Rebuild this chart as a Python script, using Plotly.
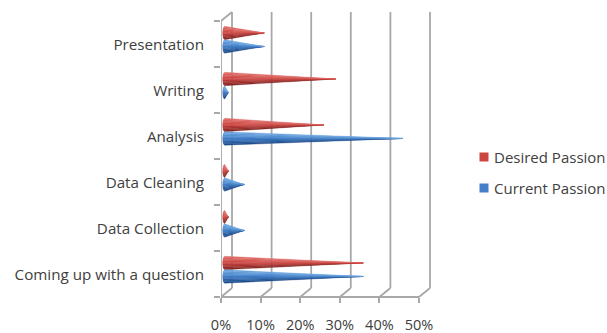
import plotly.graph_objects as go

categories = ["Coming up with a question", "Data Collection", "Data Cleaning", "Analysis", "Writing", "Presentation"]
desired_passion = [35, 1, 1, 25, 28, 10]
current_passion = [35, 5, 5, 45, 1, 10]
x_ticks = [0, 10, 20, 30, 40, 50]
x_labels = ["0%", "10%", "20%", "30%", "40%", "50%"]
series_names = ["Desired Passion", "Current Passion"]

W, H = 607, 333
L, R, T, B = 221, 431, 12, 297
UX = 3.96  # pixels per percent
UY = 46.0  # pixels per category
GREY = "#a8a8a8"
TXT = "#404040"
FONT = "Open Sans"
DEPTH_X = 11 / UX
DEPTH_Y = 9 / (B - T)
BASE_SHIFT = 0.9
HALF = 0.145
BULGE = 0.45


def mix(a, b, t):
    return "#" + "".join(f"{round(a[i] + (b[i] - a[i]) * t):02x}" for i in range(3))


def ramp(top, mid, dark, v):
    # v runs from -1 (lower edge) to 1 (upper edge)
    return mix(mid, top, v) if v >= 0 else mix(mid, dark, -v)


RED = ((226, 112, 108), (200, 64, 60), (125, 38, 36))
BLUE = ((112, 168, 226), (62, 124, 198), (28, 72, 132))
STEPS = 9


def add_cones(fig, values, offset, colours, name):
    for i, val in enumerate(values):
        yc = i + offset
        tip = val + BASE_SHIFT
        for s in range(STEPS):
            a = -1 + 2 * s / STEPS
            b = -1 + 2 * (s + 1) / STEPS
            m = (a + b) / 2
            bul_a = BASE_SHIFT - BULGE * (1 - a * a) ** 0.5
            bul_b = BASE_SHIFT - BULGE * (1 - b * b) ** 0.5
            fig.add_trace(go.Scatter(
                x=[bul_a, tip, bul_b, bul_a],
                y=[yc + a * HALF, yc, yc + b * HALF, yc + a * HALF],
                mode="lines", fill="toself", line=dict(width=0.4, color=ramp(*colours, m)),
                fillcolor=ramp(*colours, m), hoverinfo="skip", showlegend=False, name=name,
            ))


fig = go.Figure()
add_cones(fig, desired_passion, 0.24, RED, series_names[0])
add_cones(fig, current_passion, -0.054, BLUE, series_names[1])

shapes = []
annotations = []
X_END = (R - L) / (W - L)


def xp(px):
    return (px - L) / (W - L)


def yp(px):
    return (B - px) / (B - T)


def line(x0, y0, x1, y1):
    shapes.append(dict(type="line", xref="x", yref="paper", x0=x0, y0=y0, x1=x1, y1=y1,
                       layer="below", line=dict(color=GREY, width=1.8)))


front_top = yp(21)
for v in x_ticks:
    line(v + DEPTH_X, DEPTH_Y, v + DEPTH_X, 1)
    line(v, 0, v + DEPTH_X, DEPTH_Y)
line(0, 0, 50, 0)
line(0, 0, 0, front_top)
line(0, front_top, DEPTH_X, 1)

for name, colours, row in zip(series_names, (RED, BLUE), (157, 188)):
    shapes.append(dict(type="rect", xref="paper", yref="paper", x0=xp(479.5), x1=xp(488.5),
                       y0=yp(row + 4.5), y1=yp(row - 4.5), line=dict(width=0),
                       fillcolor=mix(colours[1], colours[0], 0.1)))
    annotations.append(dict(xref="paper", yref="paper", x=xp(492), y=yp(row), xanchor="left",
                            yanchor="middle", text=name, showarrow=False,
                            font=dict(size=15, color=TXT)))

fig.update_layout(
    width=W, height=H, autosize=False,
    margin=dict(l=L, r=0, t=T, b=H - B, pad=0),
    paper_bgcolor="white", plot_bgcolor="white",
    font=dict(family=FONT, size=15.2, color=TXT),
    shapes=shapes, annotations=annotations, showlegend=False,
    xaxis=dict(domain=[0, X_END], automargin=False, range=[0, (R - L) / UX], tickvals=x_ticks,
               ticktext=x_labels, showgrid=False, zeroline=False, showline=False, ticks="outside",
               ticklen=5, tickwidth=1.8, tickcolor=GREY, ticklabelstandoff=10,
               tickfont=dict(size=14.5, color=TXT)),
    yaxis=dict(automargin=False, range=[-0.5, -0.5 + (B - T) / UY],
               tickvals=[i - 0.02 for i in range(len(categories))], ticktext=categories,
               showgrid=False, zeroline=False, showline=False, ticks="", ticklabelstandoff=16,
               tickfont=dict(size=15.2, color=TXT),
               minor=dict(tickvals=[i - 0.5 for i in range(len(categories) + 1)], ticks="outside",
                          ticklen=6, tickwidth=1.8, tickcolor=GREY, showgrid=False)),
)

fig.write_html("out.html", config=dict(displayModeBar=False),
               post_script="document.body.style.margin='0';")
